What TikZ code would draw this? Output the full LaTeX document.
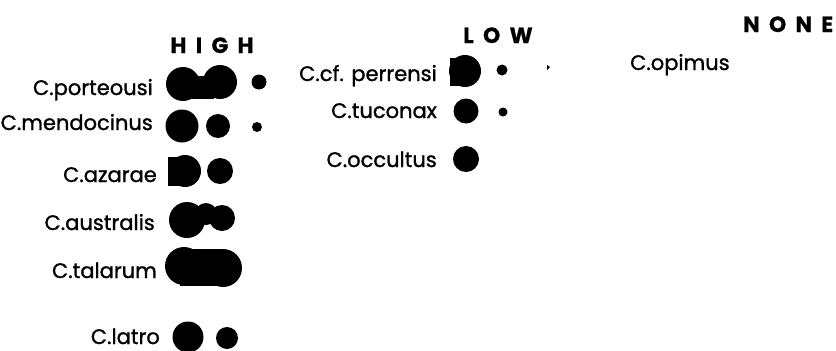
\documentclass[tikz,border=0pt]{standalone}
\usepackage{fontspec}
\setmainfont{Poppins}
\newfontfamily\lblfont[FakeBold=1.2]{Poppins}
\newfontfamily\hdfont[LetterSpace=42,FakeBold=0.6]{Poppins Bold}
\begin{document}
\begin{tikzpicture}[x=1pt,y=-1pt,
  lbl/.style={inner sep=0pt,font=\lblfont\fontsize{21}{21}\selectfont},
  hdr/.style={inner sep=0pt,font=\hdfont\fontsize{22}{22}\selectfont},
  ink/.style={fill=black}]
\useasboundingbox (0,0) rectangle (836,351);
% headers
\node[hdr,anchor=base] (high) at (212,53) {HIGH};
\node[hdr,anchor=base] (low) at (498,43) {LOW};
\node[hdr,anchor=base west] (none) at (743,32) {NONE};
% HIGH labels
\node[lbl,anchor=base east] (porteousi) at (153,95) {C.porteousi};
\node[lbl,anchor=base east] (mendocinus) at (153,130) {C.mendocinus};
\node[lbl,anchor=base east] (azarae) at (157,182) {C.azarae};
\node[lbl,anchor=base east] (australis) at (155,230) {C.australis};
\node[lbl,anchor=base east] (talarum) at (157,278) {C.talarum};
\node[lbl,anchor=base east] (latro) at (160,344) {C.latro};
% LOW labels
\node[lbl,anchor=base east] (perrensi) at (437,81) {C.cf. perrensi};
\node[lbl,anchor=base east] (tuconax) at (437,118) {C.tuconax};
\node[lbl,anchor=base east] (occultus) at (437,167) {C.occultus};
% NONE label
\node[lbl,anchor=base west] (opimus) at (630,70) {C.opimus};
% porteousi blobs
\fill[ink] (183,84) circle (17);
\fill[ink] (220,82) circle (17);
\fill[ink] (190,76) rectangle (214,99);
\fill[ink] (259,82) circle (7.5);
% mendocinus
\fill[ink] (182,126) circle (16.5);
\fill[ink] (218,126) circle (12);
\fill[ink] (257,127) circle (5);
% azarae
\fill[ink] (185,171) circle (16);
\fill[ink] (168,157) rectangle (185,186);
\fill[ink] (220,171) circle (13);
% australis
\fill[ink] (187,220) circle (18);
\fill[ink] (206,214) circle (11);
\fill[ink] (222,218) circle (13);
% talarum
\fill[ink] (184,266) circle (19);
\fill[ink] (223,268) circle (19);
\fill[ink] (180,249) rectangle (225,286);
% latro
\fill[ink] (188,337) circle (15.5);
\fill[ink] (227,338) circle (11);
% perrensi
\fill[ink] (465,71) circle (16);
\fill[ink] (450,58) rectangle (465,86);
\fill[ink] (502,70) circle (5.5);
\fill[ink] (547,65) -- (550,67) -- (547,70) -- cycle;
% tuconax
\fill[ink] (466,111) circle (12.5);
\fill[ink] (503,112) circle (4.5);
% occultus
\fill[ink] (466,159) circle (13);
\end{tikzpicture}
\end{document}
